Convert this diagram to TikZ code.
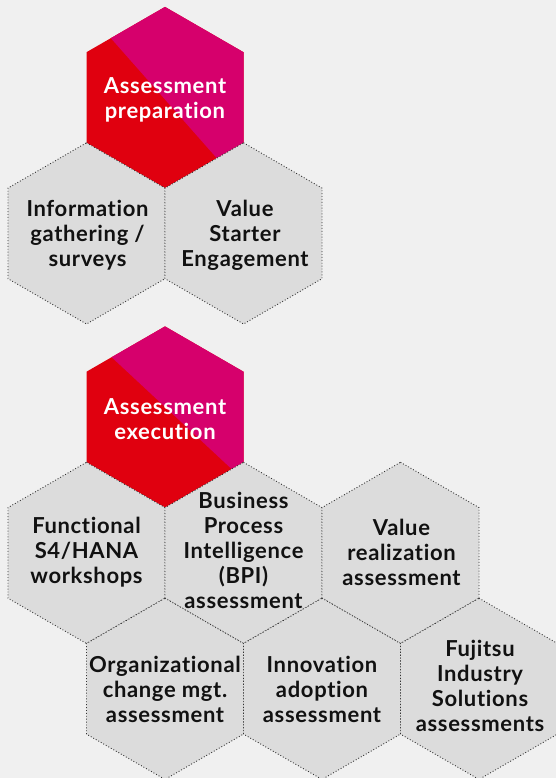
\documentclass[tikz,border=0pt]{standalone}
\usepackage{fontspec}
\setmainfont{Lato}[LetterSpace=3, Ligatures={NoCommon,NoContextual}]
\usetikzlibrary{calc}
\definecolor{bg}{HTML}{F0F0F0}
\definecolor{hexgray}{HTML}{DCDCDC}
\definecolor{fred}{HTML}{E0000F}
\definecolor{fpink}{HTML}{D6006C}
\definecolor{dotc}{HTML}{333333}
\definecolor{txt}{HTML}{111111}
\newcommand\hexat[2]{(#1,#2-90.6) -- ++(78.5,45.3) -- ++(0,90.6) -- ++(-78.5,45.3) -- ++(-78.5,-45.3) -- ++(0,-90.6) -- cycle}
\tikzset{
  grayhex/.style={fill=hexgray, draw=dotc, line width=0.9pt, dash pattern=on 0.9pt off 2pt},
  hexlabel/.style={font=\fontsize{22}{25}\selectfont\bfseries, align=center, text=txt, inner sep=0pt},
  redlabel/.style={hexlabel, text=white},
}
\begin{document}
\begin{tikzpicture}[x=1pt,y=-1pt]
\useasboundingbox (0,0) rectangle (556,778);
\fill[bg] (0,0) rectangle (556,778);
\clip (0,0) rectangle (556,778);
% red hexagon: preparation
\coordinate (pT) at (165,6.9);
\coordinate (pUR) at (243.5,52.2);
\coordinate (pLR) at (243.5,142.8);
\coordinate (pB) at (165,188.1);
\coordinate (pUL) at (86.5,52.2);
\fill[fred] \hexat{165}{97.5};
\fill[fpink] ($(pUL)!0.31!(pT)$) -- (pT) -- (pUR) -- (pLR) -- ($(pLR)!0.34!(pB)$) -- cycle;
% red hexagon: execution
\coordinate (eT) at (165,326.4);
\coordinate (eUR) at (243.5,371.7);
\coordinate (eLR) at (243.5,462.3);
\coordinate (eB) at (165,507.6);
\coordinate (eUL) at (86.5,371.7);
\fill[fred] \hexat{165}{417};
\fill[fpink] ($(eUL)!0.32!(eT)$) -- (eT) -- (eUR) -- (eLR) -- ($(eLR)!0.15!(eB)$) -- cycle;
% gray hexagons
\path[grayhex] \hexat{86.5}{233.4};
\path[grayhex] \hexat{243.5}{233.4};
\path[grayhex] \hexat{86.5}{552.9};
\path[grayhex] \hexat{243.5}{552.9};
\path[grayhex] \hexat{400.5}{552.9};
\path[grayhex] \hexat{165}{688.8};
\path[grayhex] \hexat{322}{688.8};
\path[grayhex] \hexat{479}{688.8};
% labels
\node[redlabel] (prep) at (165,100) {Assessment\\preparation};
\node[hexlabel] (info) at (87.5,235) {Information\\gathering /\\surveys};
\node[hexlabel] (vse) at (245,235) {Value\\Starter\\Engagement};
\node[redlabel] (exec) at (165,419) {Assessment\\execution};
\node[hexlabel] (func) at (86.5,552) {Functional\\S4/HANA\\workshops};
\node[hexlabel] (bpi) at (243.5,550) {Business\\Process\\Intelligence\\(BPI)\\assessment};
\node[hexlabel] (vra) at (401.5,552) {Value\\realization\\assessment};
\node[hexlabel] (ocm) at (165,689) {Organizational\\change mgt.\\assessment};
\node[hexlabel] (ina) at (322,689) {Innovation\\adoption\\assessment};
\node[hexlabel] (fis) at (480,686) {Fujitsu\\Industry\\Solutions\\assessments};
\end{tikzpicture}
\end{document}
